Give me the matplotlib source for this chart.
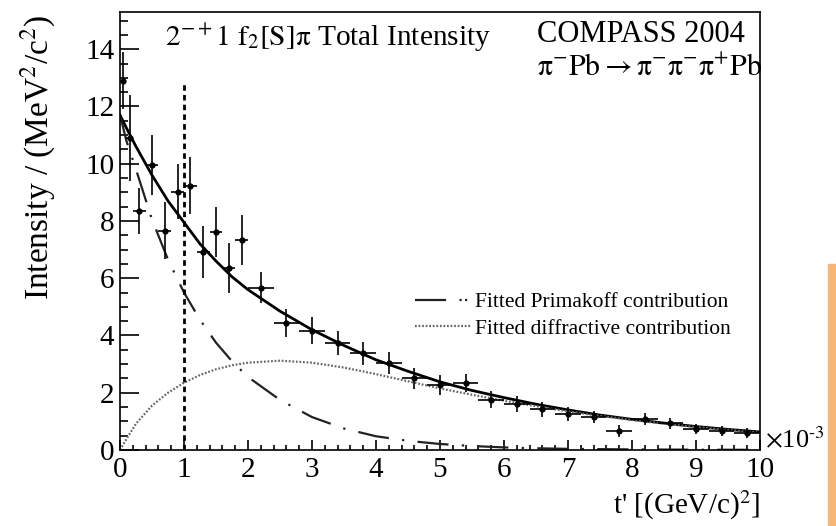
import matplotlib
matplotlib.use("Agg")
import matplotlib.pyplot as plt
from matplotlib.lines import Line2D
from matplotlib.patches import Rectangle
from matplotlib.ticker import MultipleLocator

plt.rcParams["font.family"] = ["Liberation Serif", "DejaVu Serif"]
plt.rcParams["mathtext.fontset"] = "stix"

# measured points, t' in units of 1e-3 (GeV/c)^2
t_pts = [0.05, 0.15, 0.3, 0.5, 0.7, 0.9, 1.1, 1.3, 1.5, 1.7, 1.9, 2.2,
         2.6, 3.0, 3.4, 3.8, 4.2, 4.6, 5.0, 5.4, 5.8, 6.2, 6.6, 7.0,
         7.4, 7.8, 8.2, 8.6, 9.0, 9.4, 9.8]
t_err = [0.05, 0.05, 0.1, 0.1, 0.1, 0.1, 0.1, 0.1, 0.1, 0.1, 0.1, 0.2,
         0.2, 0.2, 0.2, 0.2, 0.2, 0.2, 0.2, 0.2, 0.2, 0.2, 0.2, 0.2,
         0.2, 0.2, 0.2, 0.2, 0.2, 0.2, 0.2]
intensity = [12.9, 10.9, 8.35, 9.96, 7.66, 9.02, 9.23, 6.92, 7.62, 6.36, 7.34, 5.67,
             4.44, 4.16, 3.74, 3.38, 3.03, 2.5, 2.27, 2.35, 1.75, 1.61, 1.43, 1.26,
             1.15, 0.66, 1.08, 0.94, 0.73, 0.66, 0.59]
intensity_err = [1.0, 1.5, 0.8, 1.05, 1.0, 0.96, 1.0, 0.9, 0.87, 0.87, 0.87, 0.55,
                 0.48, 0.47, 0.42, 0.4, 0.38, 0.36, 0.34, 0.32, 0.3, 0.28, 0.26, 0.24,
                 0.22, 0.2, 0.2, 0.19, 0.18, 0.17, 0.17]

# fitted curves
t_fit = [0, 0.1, 0.25, 0.5, 0.75, 1.0, 1.25, 1.5, 1.75, 2.0, 2.5, 3.0, 3.5, 4.0,
         4.5, 5.0, 5.5, 6.0, 6.5, 7.0, 7.5, 8.0, 8.5, 9.0, 9.5, 10.0]
total_fit = [11.7, 11.25, 10.6, 9.6, 8.7, 7.95, 7.2, 6.6, 6.05, 5.6, 4.85, 4.2, 3.65, 3.15,
             2.75, 2.38, 2.08, 1.83, 1.6, 1.4, 1.22, 1.07, 0.94, 0.82, 0.72, 0.63]
primakoff_fit = [11.7, 10.8, 9.8, 8.05, 6.65, 5.5, 4.55, 3.75, 3.1, 2.55, 1.75, 1.15, 0.75, 0.48,
                 0.32, 0.21, 0.14, 0.09, 0.06, 0.04, 0.03, 0.02, 0.015, 0.01, 0.008, 0.005]
diffractive_fit = [0, 0.38, 0.92, 1.55, 2.0, 2.35, 2.62, 2.82, 2.96, 3.05, 3.12, 3.05, 2.88, 2.65,
                   2.4, 2.15, 1.93, 1.72, 1.53, 1.35, 1.19, 1.05, 0.92, 0.8, 0.7, 0.6]

W, H = 836, 526


def px(x, y):
    return x / W, 1 - y / H


fig = plt.figure(figsize=(W / 100, H / 100), dpi=100)
ax = fig.add_axes([120 / W, 1 - 450 / H, 640 / W, 438 / H])

ax.plot(t_fit, total_fit, color="black", lw=2.0)
ax.plot(t_fit, primakoff_fit, color="#222222", lw=1.6,
        linestyle=(0, (14, 6, 1, 6)))
ax.plot(t_fit, diffractive_fit, color="#666666", lw=1.6, linestyle=(0, (0.8, 0.8)))
ax.errorbar(t_pts, intensity, xerr=t_err, yerr=intensity_err, fmt="o", ms=3.5,
            color="black", ecolor="black", elinewidth=1.2, capsize=0)
ax.plot([1, 1], [0, 12.9], color="black", lw=2.0, linestyle=(0, (2, 1.5)))

ax.set_xlim(0, 10)
ax.set_ylim(0, 15.3)
ax.xaxis.set_major_locator(MultipleLocator(1))
ax.xaxis.set_minor_locator(MultipleLocator(0.2))
ax.yaxis.set_major_locator(MultipleLocator(2))
ax.yaxis.set_minor_locator(MultipleLocator(0.5))
ax.tick_params(axis="both", which="both", direction="in", top=False, right=False,
               labelsize=21, width=1.2)
ax.tick_params(axis="y", which="major", length=14, pad=4)
ax.tick_params(axis="y", which="minor", length=6)
ax.tick_params(axis="x", which="major", length=7, pad=5)
ax.tick_params(axis="x", which="minor", length=3.5)
for s in ax.spines.values():
    s.set_linewidth(1.2)

fig.text(*px(165, 38), r"$\mathrm{2^{-+}1\ f_{2}[S]\pi}$ Total Intensity",
         fontsize=21.2, ha="left", va="center")
fig.text(*px(537, 35), "COMPASS 2004", fontsize=22, ha="left", va="center")
fig.text(*px(537, 68), r"$\mathrm{\pi^{-}Pb \rightarrow \pi^{-}\pi^{-}\pi^{+}Pb}$",
         fontsize=21.5, ha="left", va="center")
fig.text(*px(38, 14), r"Intensity / (MeV$^2$/c$^2$)", fontsize=24,
         rotation=90, ha="center", va="top")
fig.text(*px(760, 505), r"t' [(GeV/c)$^2$]", fontsize=21, ha="right", va="center")
fig.text(*px(765, 440), r"$\times$10$^{\text{-}3}$", fontsize=19, ha="left", va="center")

handles = [
    Line2D([], [], color="#222222", lw=1.6, linestyle=(0, (14, 6, 1, 1.5, 1, 6))),
    Line2D([], [], color="#666666", lw=1.6, linestyle=(0, (0.8, 0.8))),
]
ax.legend(handles, ["Fitted Primakoff contribution", "Fitted diffractive contribution"],
          loc="upper left", bbox_to_anchor=px(415, 292), bbox_transform=fig.transFigure,
          frameon=False, fontsize=15.5, handlelength=2.6, handletextpad=0.2,
          labelspacing=0.3, borderpad=0, borderaxespad=0)

fig.patches.append(Rectangle(px(828, 526), 8 / W, (526 - 264) / H,
                             transform=fig.transFigure, color="#F6B776"))

fig.savefig("out.png", dpi=100)
